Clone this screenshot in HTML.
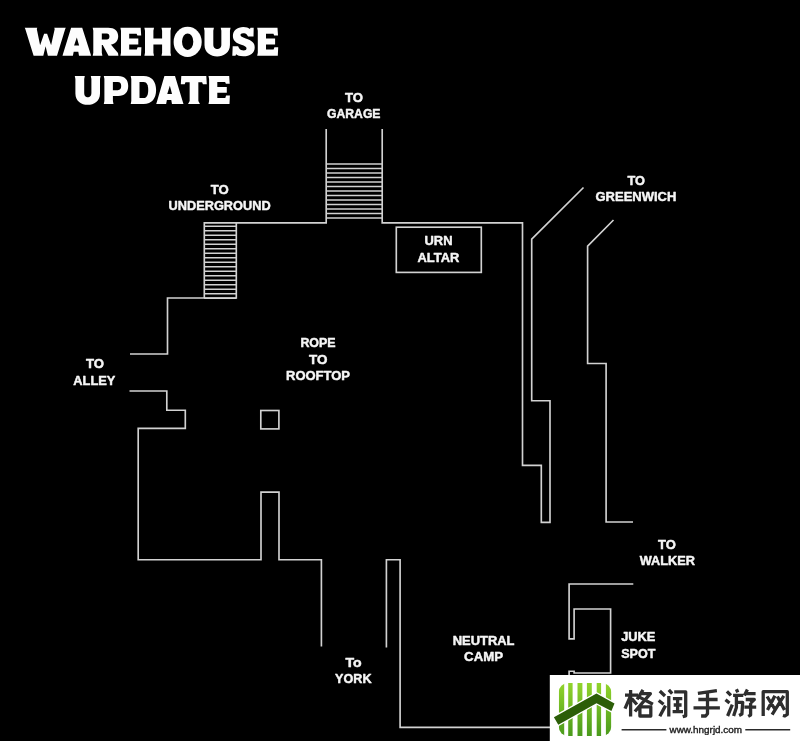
<!DOCTYPE html>
<html>
<head>
<meta charset="utf-8">
<title>Warehouse Update</title>
<style>
html,body{margin:0;padding:0;background:#000;}
body{width:800px;height:741px;overflow:hidden;font-family:"Liberation Sans",sans-serif;}
svg{display:block;}
.w{fill:none;stroke:#d2d2d2;stroke-width:1.65;stroke-linecap:butt;stroke-linejoin:miter;}
.st{fill:none;stroke:#d2d2d2;stroke-width:1.65;}
.t{font-family:"Liberation Sans",sans-serif;font-weight:bold;font-size:12.6px;fill:#f6f6f6;stroke:#f6f6f6;stroke-width:0.45px;stroke-linejoin:round;}
.ttl{font-family:"Liberation Sans",sans-serif;font-weight:bold;font-size:42px;fill:#f6f6f6;stroke:#f6f6f6;stroke-width:1.4;stroke-linejoin:round;}
</style>
</head>
<body>
<svg width="800" height="741" viewBox="0 0 800 741">
<defs><filter id="gs" x="0" y="0" width="800" height="741" filterUnits="userSpaceOnUse" color-interpolation-filters="sRGB"><feColorMatrix type="saturate" values="0"/></filter></defs>
<rect x="0" y="0" width="800" height="741" fill="#000"/>

<!-- TITLE -->
<g id="title" fill="#fdfdfd">
<path transform="translate(25.10 27.70)" d="M-0.40 0L12.20 0L11.70 1.2L15.00 17.6L19.00 6.1L22.00 6.1L26.00 17.6L29.60 1.2L29.10 0L40.70 0L40.10 1.2L31.90 28L22.80 28L20.50 18.6L18.20 28L8.50 28L0.20 1.2Z"/>
<path transform="translate(62.80 27.70)" d="M-0.30 28L0.20 26.4L8.30 0L19.40 0L27.80 26.4L28.30 28L16.20 28L15.50 24L10.90 24L10.10 28Z"/>
<path fill="#000" transform="translate(62.80 27.70)" d="M11.30 17.9L16.30 17.9L14.00 9.8Z"/>
<path transform="translate(92.60 27.70)" d="M0.10 0H9.80L9.20 3V25.0L9.80 28.0H0.10L0.70 25.0V3ZM8.5 0H15.60C22.10 0 25.60 3.4 25.60 8.6C25.60 13.8 22.10 17.2 15.60 17.2H8.5ZM9 16H17.60L25.40 25.4L25.80 28H15.90L10.00 17Z"/>
<path fill="#000" transform="translate(92.60 27.70)" d="M9.2 5.8H14.10C16.00 5.8 16.80 7 16.80 8.8C16.80 10.6 16.00 11.8 14.10 11.8H9.2Z"/>
<path transform="translate(120.40 27.70)" d="M0.00 0H9.40L8.80 3V25.0L9.40 28.0H0.00L0.60 25.0V3ZM8 0H20.30L20.80 7.7H17.00L16.20 6.1H8ZM8 10.9H17.90V16.7H8ZM8 21.9H16.40L17.20 19.5H21.00L20.60 28H8Z"/>
<path transform="translate(144.40 27.70)" d="M0.00 0H9.60L9.00 3V25.0L9.60 28.0H0.00L0.60 25.0V3ZM17.10 0H26.70L26.10 3V25.0L26.70 28.0H17.10L17.70 25.0V3ZM8.50 10.90H18.20V16.70H8.50Z"/>
<path transform="translate(173.60 27.70)" d="M0.00 14.2A14.05 15.1 0 1 1 28.10 14.2A14.05 15.1 0 1 1 0.00 14.2Z"/>
<path fill="#000" transform="translate(173.60 27.70)" d="M8.40 14.0A5.65 8.3 0 1 0 19.70 14.0A5.65 8.3 0 1 0 8.40 14.0Z"/>
<path transform="translate(203.90 27.70)" d="M0 0H10.00L9.40 3V16.70C9.40 20.20 11.62 21.2 13.43 21.2C15.23 21.2 17.45 20.20 17.45 16.70V3L16.85 0H26.65L26.05 3V17.4C26.05 25 19.73 28.8 13.32 28.8C6.92 28.8 0.6 25 0.6 17.4V3Z"/>
<path transform="translate(232.70 27.70)" d="M20.80 8.8H15.40L14.40 7.2C13.40 6 12.00 5.6 10.40 5.6C8.60 5.6 7.80 6.4 7.80 7.4C7.80 8.8 9.40 9.6 13.00 10.8C19.00 12.8 22.00 15 22.00 19.8C22.00 25.4 17.40 28.6 10.60 28.6C7.00 28.6 4.60 27.8 3.40 26.6L2.80 28H-0.40L0.00 18.6H5.40L6.40 20.6C7.40 22 9.00 22.8 11.00 22.8C12.80 22.8 13.80 22 13.80 20.6C13.80 19 12.20 18.2 8.60 17C3.00 15.2 0.20 12.6 0.20 8.2C0.20 3 4.40 -0.6 10.60 -0.6C13.60 -0.6 15.80 0.2 17.20 1.4L17.80 0H21.00Z"/>
<path transform="translate(257.20 27.70)" d="M0.00 0H9.40L8.80 3V25.0L9.40 28.0H0.00L0.60 25.0V3ZM8 0H20.30L20.80 7.7H17.00L16.20 6.1H8ZM8 10.9H17.90V16.7H8ZM8 21.9H16.40L17.20 19.5H21.00L20.60 28H8Z"/>
<path transform="translate(74.80 76.00)" d="M0 0H10.00L9.40 3V16.70C9.40 20.20 11.20 21.2 13.00 21.2C14.80 21.2 16.60 20.20 16.60 16.70V3L16.00 0H25.80L25.20 3V17.4C25.20 25 19.30 28.8 12.90 28.8C6.50 28.8 0.6 25 0.6 17.4V3Z"/>
<path transform="translate(103.70 76.00)" d="M0.10 0H9.80L9.20 3V25.0L9.80 28.0H0.10L0.70 25.0V3ZM8.5 0H14.50C21.10 0 24.50 3.8 24.50 10C24.50 16.2 21.10 20 14.50 20H8.5Z"/>
<path fill="#000" transform="translate(103.70 76.00)" d="M9.2 6H14.00C16.50 6 17.50 7.6 17.50 10.1C17.50 12.6 16.50 14.2 14.00 14.2H9.2Z"/>
<path transform="translate(130.70 76.00)" d="M0.00 0H9.40L8.80 3V25.0L9.40 28.0H0.00L0.60 25.0V3ZM8 0H12.90C21.20 0 25.40 5.6 25.40 14C25.40 22.4 21.20 28 12.90 28H8Z"/>
<path fill="#000" transform="translate(130.70 76.00)" d="M8.8 6H13.00C16.20 6 17.50 9.2 17.50 14C17.50 18.8 16.20 22.1 13.00 22.1H8.8Z"/>
<path transform="translate(156.50 76.00)" d="M-0.29 28L0.19 26.4L7.91 0L18.50 0L26.51 26.4L26.99 28L15.45 28L14.78 24L10.39 24L9.63 28Z"/>
<path fill="#000" transform="translate(156.50 76.00)" d="M10.78 17.9L15.54 17.9L13.35 9.8Z"/>
<path transform="translate(180.90 76.00)" d="M0.4 0H25.40L25.90 8.3H22.00L21.20 6.35H4.6L3.8 8.3H-0.1ZM7.15 3H19.05L17.45 6V25.0L19.05 28.0H7.15L8.75 25.0V6Z"/>
<path transform="translate(208.50 76.00)" d="M0.00 0H9.40L8.80 3V25.0L9.40 28.0H0.00L0.60 25.0V3ZM8 0H20.70L21.20 7.7H17.40L16.60 6.1H8ZM8 10.9H18.30V16.7H8ZM8 21.9H16.80L17.60 19.5H21.40L21.00 28H8Z"/>
</g>

<!-- WALLS -->
<g id="walls">
<!-- main outline: alley upper -> underground stairs -> top wall -> garage -> right wall -->
<path class="w" d="M130 354 H167.5 V298 H204.3 V222.9 H326.2 V129 M382.2 129 V222.9 H522.5 V465.3 H541.3 V522.3 H550 V400.7 H531.7 V239.2 L583.5 187.5"/>
<path class="w" d="M236.3 222.9 V298 H204.3"/>
<!-- greenwich right wall -->
<path class="w" d="M613.5 220 L587.6 246.2 V363.5 H606.1 V522 H633"/>
<!-- alley lower + lower-left room -->
<path class="w" d="M129.5 391 H166.8 V410.2 H185.3 V428.3 H138.2 V559.7 H261 V492.1 H279 V559.7 H321.4 V646.6"/>
<!-- small square -->
<rect class="w" x="260.8" y="410.5" width="18.1" height="18.4"/>
<!-- york / neutral camp -->
<path class="w" d="M386.4 647.6 V559.7 H400.1 V727.4 H552"/>
<!-- urn altar box -->
<rect class="w" x="396.3" y="227.2" width="85" height="45.2"/>
<!-- walker / juke spot -->
<path class="w" d="M633.3 584 H569.1 V638.8 H574.1 V609.0 H610.6 V673.0 H574.1 V671.2 H569.1 V727.4"/>
</g>

<!-- STAIRS -->
<g id="stairs-garage" class="st">
<path d="M326.2 164.0H382.2"/>
<path d="M326.2 168.5H382.2"/>
<path d="M326.2 173.0H382.2"/>
<path d="M326.2 177.5H382.2"/>
<path d="M326.2 182.0H382.2"/>
<path d="M326.2 186.5H382.2"/>
<path d="M326.2 191.0H382.2"/>
<path d="M326.2 195.5H382.2"/>
<path d="M326.2 200.0H382.2"/>
<path d="M326.2 204.5H382.2"/>
<path d="M326.2 209.0H382.2"/>
<path d="M326.2 213.5H382.2"/>
<path d="M326.2 218.0H382.2"/>
</g>
<g id="stairs-under" class="st">
<path d="M204.3 298.2H236.3"/>
<path d="M204.3 293.7H236.3"/>
<path d="M204.3 289.2H236.3"/>
<path d="M204.3 284.7H236.3"/>
<path d="M204.3 280.2H236.3"/>
<path d="M204.3 275.7H236.3"/>
<path d="M204.3 271.2H236.3"/>
<path d="M204.3 266.7H236.3"/>
<path d="M204.3 262.2H236.3"/>
<path d="M204.3 257.7H236.3"/>
<path d="M204.3 253.2H236.3"/>
<path d="M204.3 248.7H236.3"/>
<path d="M204.3 244.2H236.3"/>
<path d="M204.3 239.7H236.3"/>
<path d="M204.3 235.2H236.3"/>
<path d="M204.3 230.7H236.3"/>
<path d="M204.3 226.2H236.3"/>
</g>

<!-- LABELS -->
<g id="labels" filter="url(#gs)">
<text class="t" x="345.0" y="101.6" textLength="18.0" lengthAdjust="spacingAndGlyphs">TO</text>
<text class="t" x="327.0" y="118.2" textLength="53.5" lengthAdjust="spacingAndGlyphs">GARAGE</text>
<text class="t" x="210.8" y="194.0" textLength="18.0" lengthAdjust="spacingAndGlyphs">TO</text>
<text class="t" x="168.6" y="210.4" textLength="102.0" lengthAdjust="spacingAndGlyphs">UNDERGROUND</text>
<text class="t" x="627.5" y="185.0" textLength="17.5" lengthAdjust="spacingAndGlyphs">TO</text>
<text class="t" x="595.5" y="201.2" textLength="80.8" lengthAdjust="spacingAndGlyphs">GREENWICH</text>
<text class="t" x="424.5" y="245.3" textLength="28.0" lengthAdjust="spacingAndGlyphs">URN</text>
<text class="t" x="417.5" y="261.6" textLength="41.8" lengthAdjust="spacingAndGlyphs">ALTAR</text>
<text class="t" x="300.4" y="347.4" textLength="35.2" lengthAdjust="spacingAndGlyphs">ROPE</text>
<text class="t" x="309.0" y="363.6" textLength="18.4" lengthAdjust="spacingAndGlyphs">TO</text>
<text class="t" x="286.0" y="380.0" textLength="64.0" lengthAdjust="spacingAndGlyphs">ROOFTOP</text>
<text class="t" x="86.0" y="368.2" textLength="18.0" lengthAdjust="spacingAndGlyphs">TO</text>
<text class="t" x="73.3" y="384.6" textLength="42.1" lengthAdjust="spacingAndGlyphs">ALLEY</text>
<text class="t" x="345.5" y="667.4" textLength="16.2" lengthAdjust="spacingAndGlyphs">To</text>
<text class="t" x="335.1" y="683.0" textLength="36.4" lengthAdjust="spacingAndGlyphs">YORK</text>
<text class="t" x="452.7" y="644.5" textLength="61.8" lengthAdjust="spacingAndGlyphs">NEUTRAL</text>
<text class="t" x="464.1" y="661.4" textLength="39.0" lengthAdjust="spacingAndGlyphs">CAMP</text>
<text class="t" x="658.0" y="548.6" textLength="17.8" lengthAdjust="spacingAndGlyphs">TO</text>
<text class="t" x="639.8" y="564.8" textLength="55.2" lengthAdjust="spacingAndGlyphs">WALKER</text>
<text class="t" x="621.2" y="641.4" textLength="34.2" lengthAdjust="spacingAndGlyphs">JUKE</text>
<text class="t" x="621.2" y="657.7" textLength="34.2" lengthAdjust="spacingAndGlyphs">SPOT</text>
</g>

<!-- WATERMARK -->
<g id="wm">
<rect x="549.8" y="675" width="256" height="72" fill="#fff"/>
<defs><linearGradient id="gg" x1="0" y1="0" x2="0" y2="1"><stop offset="0" stop-color="#92d42c"/><stop offset="1" stop-color="#4a9a1c"/></linearGradient><clipPath id="lc"><rect x="558.8" y="683.1" width="52.4" height="52.8" rx="9" ry="9"/></clipPath></defs>
<g clip-path="url(#lc)" fill="url(#gg)"><rect x="558.8" y="683" width="5.4" height="53"/><rect x="568.2" y="683" width="4.4" height="53"/><rect x="577.5" y="683" width="4.9" height="53"/><rect x="586.9" y="683" width="4.9" height="53"/><rect x="596.7" y="683" width="4.4" height="53"/><rect x="605.9" y="683" width="5.7" height="53"/></g>
<path d="M553.9 717.2L596.5 693.5L614.5 703.6L611.4 711.1L596.5 703.2L558.3 724.7Z" fill="#2c5e08" stroke="#fff" stroke-width="2.6" stroke-linejoin="miter" paint-order="stroke"/>
<path d="M625.0 695.2L638.0 695.2M630.6 690.1L630.6 716.6M630.1 696.9L625.0 708.7M631.7 698.6L636.9 704.5M643.0 689.9L637.1 699.3M641.1 693.7L650.4 693.7L634.9 711.5M639.9 697.4L652.9 704.2M639.9 706.8L650.8 706.8L650.8 716.0L639.9 716.0ZM659.8 691.0L665.0 696.0M658.7 700.5L663.6 704.2M659.8 716.2L665.5 705.6M668.8 689.9L672.2 693.7M668.8 696.0L668.8 716.6M674.2 691.8L685.7 691.8L685.7 715.8L682.7 716.6M672.9 698.6L682.3 698.6M673.7 705.0L681.6 705.0M672.6 711.7L683.0 711.7M677.6 698.6L677.6 711.7M716.9 690.6L697.9 693.3M698.3 699.5L717.6 699.5M693.5 707.8L719.9 707.8M707.5 692.1L707.5 713.7L705.6 716.0L701.1 716.0M726.9 691.4L730.9 695.4M725.5 699.7L729.5 703.0M727.6 716.0L732.3 704.7M736.4 689.3L737.8 692.4M733.1 695.4L743.3 695.4M736.4 696.2L736.4 707.5L733.6 716.0M736.4 702.3L742.7 702.3L741.9 714.1L739.1 715.5M747.4 689.6L744.4 695.4M746.4 693.7L755.6 693.7M745.7 699.5L754.3 699.5L750.6 703.1M750.6 703.1L750.6 715.1L748.2 716.4M744.4 707.1L756.2 707.1M763.2 716.0L763.2 691.7L787.3 691.7L787.3 714.4L784.9 716.0L782.9 715.5M767.1 696.5L775.7 710.5M774.9 695.8L767.5 710.0M777.4 696.5L784.5 710.0M783.8 695.8L772.1 714.6" fill="none" stroke="#2e2e2e" stroke-width="3.3" stroke-linecap="butt" stroke-linejoin="round"/>
<path d="M621.6 729.7H666.4M745.3 729.7H790.2" stroke="#2a2a2a" stroke-width="1.5" fill="none"/>
<text filter="url(#gs)" x="669.5" y="732.6" textLength="72.5" lengthAdjust="spacingAndGlyphs" font-family="Liberation Sans, sans-serif" font-weight="normal" font-size="8.8" fill="#222" stroke="#222" stroke-width="0.35">www.hngrjd.com</text>
</g>
</svg>
</body>
</html>
